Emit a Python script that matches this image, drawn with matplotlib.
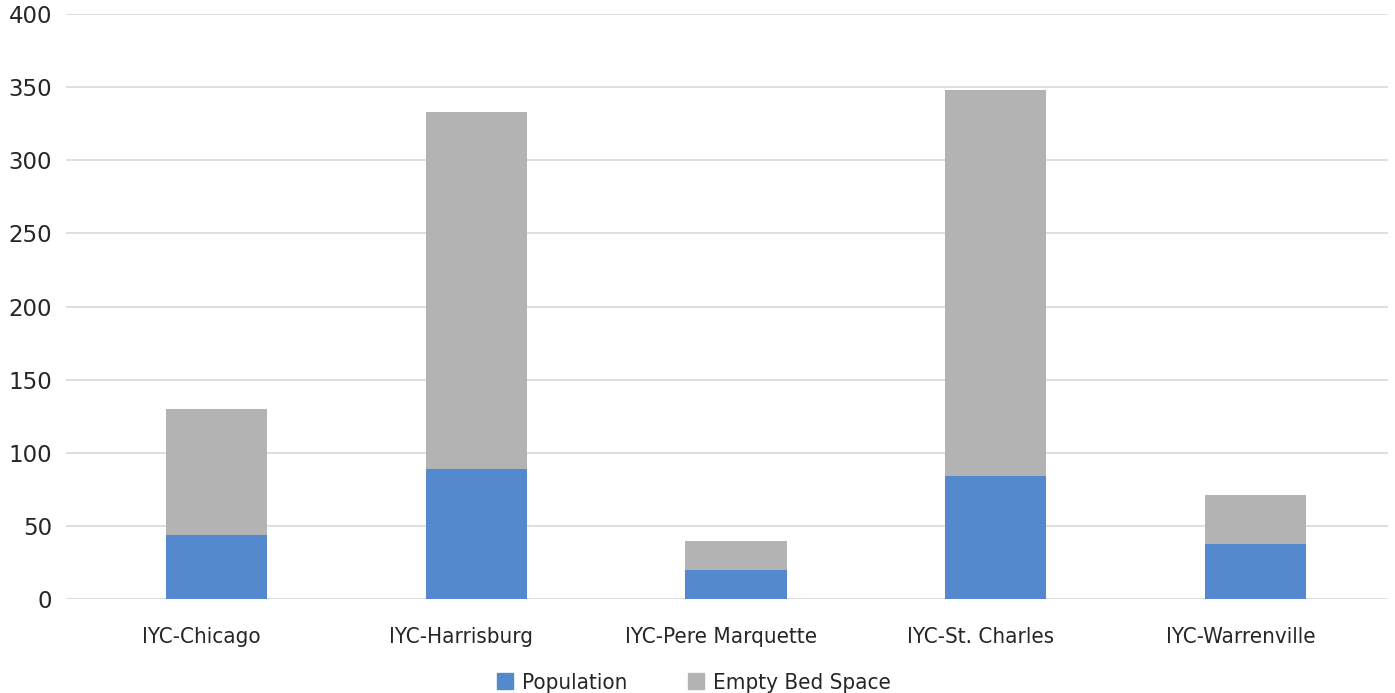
import matplotlib
matplotlib.use("Agg")
import matplotlib.pyplot as plt
from matplotlib.patches import Patch

facilities = ["IYC-Chicago", "IYC-Harrisburg", "IYC-Pere Marquette",
              "IYC-St. Charles", "IYC-Warrenville"]
population = [44, 89, 20, 84, 38]
empty_beds = [86, 244, 20, 264, 33]
yticks = [0, 50, 100, 150, 200, 250, 300, 350, 400]

blue = "#5589ce"
gray = "#b3b3b3"
txt = "#262626"

plt.rcParams['font.family'] = ['DejaVu Sans']
plt.rcParams['font.stretch'] = 'condensed'

fig = plt.figure(figsize=(13.95, 6.93), dpi=100)
ax = fig.add_axes([66/1395, 1 - 599.3/693, (1388-66)/1395, (599.3-13.7)/693])

xs = list(range(len(facilities)))
ax.bar(xs, population, width=0.39, color=blue, zorder=3)
ax.bar(xs, empty_beds, width=0.39, bottom=population, color=gray, zorder=3)

ax.set_xlim(-0.58, 4.51)
ax.set_ylim(0, 400)
ax.set_yticks(yticks)
# category labels sit a little left of the bars, as in the source chart
ax.set_xticks([x - 0.058 for x in xs])
ax.set_xticklabels(facilities)
ax.grid(axis='y', color="#d9d9d9", linewidth=1.2, zorder=0)
for s in ax.spines.values():
    s.set_visible(False)
ax.tick_params(axis='both', length=0, colors=txt)
ax.tick_params(axis='x', labelsize=16, pad=20)
ax.tick_params(axis='y', labelsize=16.5, pad=10)
for lb in ax.get_yticklabels():
    lb.set_fontstretch('normal')

handles = [Patch(color=blue, label="Population"),
           Patch(color=gray, label="Empty Bed Space")]
leg = fig.legend(handles=handles, loc='center', bbox_to_anchor=(694/1395, 1 - 683/693),
                 ncol=2, frameon=False, fontsize=16, handlelength=0.7, handleheight=0.7,
                 handletextpad=0.4, columnspacing=2.75, borderpad=0)
for t in leg.get_texts():
    t.set_color(txt)

fig.savefig("out.png", dpi=100)
